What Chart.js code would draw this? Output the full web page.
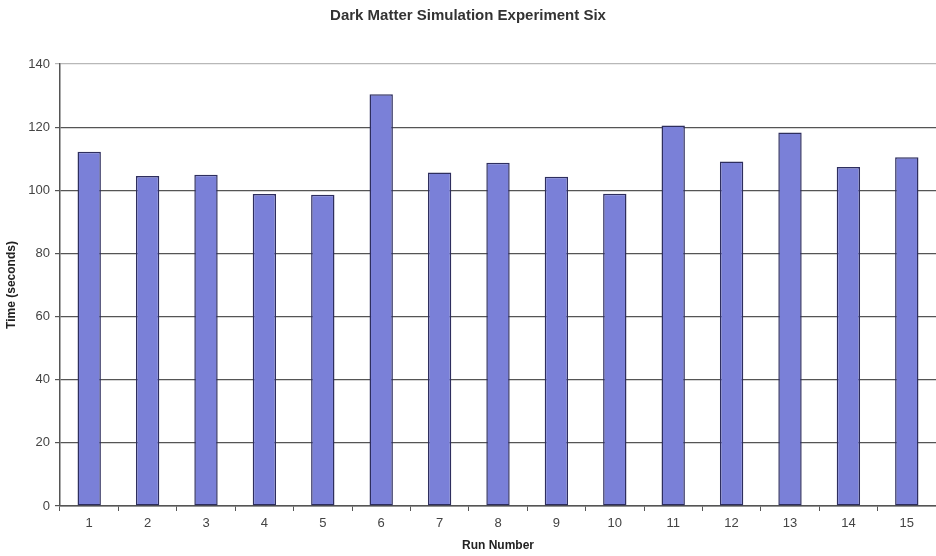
<!DOCTYPE html>
<html>
<head>
<meta charset="utf-8">
<script src="https://cdn.jsdelivr.net/npm/chart.js@4"></script>
<style>
  html, body { margin: 0; padding: 0; background: #fff; overflow: hidden; }
  #wrap { width: 936px; height: 556px; }
</style>
</head>
<body>
<div id="wrap"><canvas id="runChart" width="936" height="556"></canvas></div>
<script>
const runLabels = ['1', '2', '3', '4', '5', '6', '7', '8', '9', '10', '11', '12', '13', '14', '15'];
const runTimes = [112.2, 104.5, 104.9, 98.8, 98.6, 130.4, 105.6, 108.7, 104.3, 98.9, 120.5, 109.1, 118.3, 107.4, 110.5];
const yTicks = [0, 20, 40, 60, 80, 100, 120, 140];

const font = 'Liberation Sans, Arial, sans-serif';

const ctx = document.getElementById('runChart').getContext('2d');
new Chart(ctx, {
    type: 'bar',
    data: {
        labels: runLabels,
        datasets: [{
            label: 'Time',
            data: runTimes,
            backgroundColor: '#7a80d8',
            borderColor: '#2e2e5e',
            borderWidth: 1.5,
            borderSkipped: false,
            barPercentage: 0.4,
            categoryPercentage: 1
        }]
    },
    options: {
        responsive: false,
        animation: false,
        layout: { padding: { left: 0, right: 0, top: 0, bottom: 0 } },
        plugins: {
            legend: { display: false },
            tooltip: { enabled: false },
            title: {
                display: true,
                text: 'Dark Matter Simulation Experiment Six',
                color: '#333',
                font: { family: font, size: 15, weight: 'bold' },
                padding: { top: 7, bottom: 39 }
            }
        },
        scales: {
            x: {
                grid: {
                    drawOnChartArea: false,
                    drawTicks: true,
                    tickLength: 5,
                    color: '#555'
                },
                border: { color: '#555', width: 1.5 },
                ticks: {
                    color: '#444',
                    font: { family: font, size: 13 },
                    padding: 5
                },
                title: {
                    display: true,
                    text: 'Run Number',
                    color: '#222',
                    font: { family: font, size: 12, weight: 'bold' },
                    padding: { top: 2, bottom: 3 }
                },
                afterFit: axis => { axis.height = 50; }
            },
            y: {
                min: 0,
                max: 140,
                afterBuildTicks: axis => {
                    axis.ticks = yTicks.map(v => ({ value: v }));
                },
                grid: {
                    color: c => (c.tick && c.tick.value === 140) ? '#b8b8b8' : '#555',
                    lineWidth: 1.2,
                    tickLength: 5
                },
                border: { color: '#555', width: 1.5 },
                ticks: {
                    color: '#444',
                    font: { family: font, size: 13 },
                    padding: 5
                },
                title: {
                    display: true,
                    text: 'Time (seconds)',
                    color: '#222',
                    font: { family: font, size: 12, weight: 'bold' },
                    padding: { top: 4, bottom: 2 }
                },
                afterFit: axis => { axis.width = 60; }
            }
        }
    }
});
</script>
</body>
</html>
